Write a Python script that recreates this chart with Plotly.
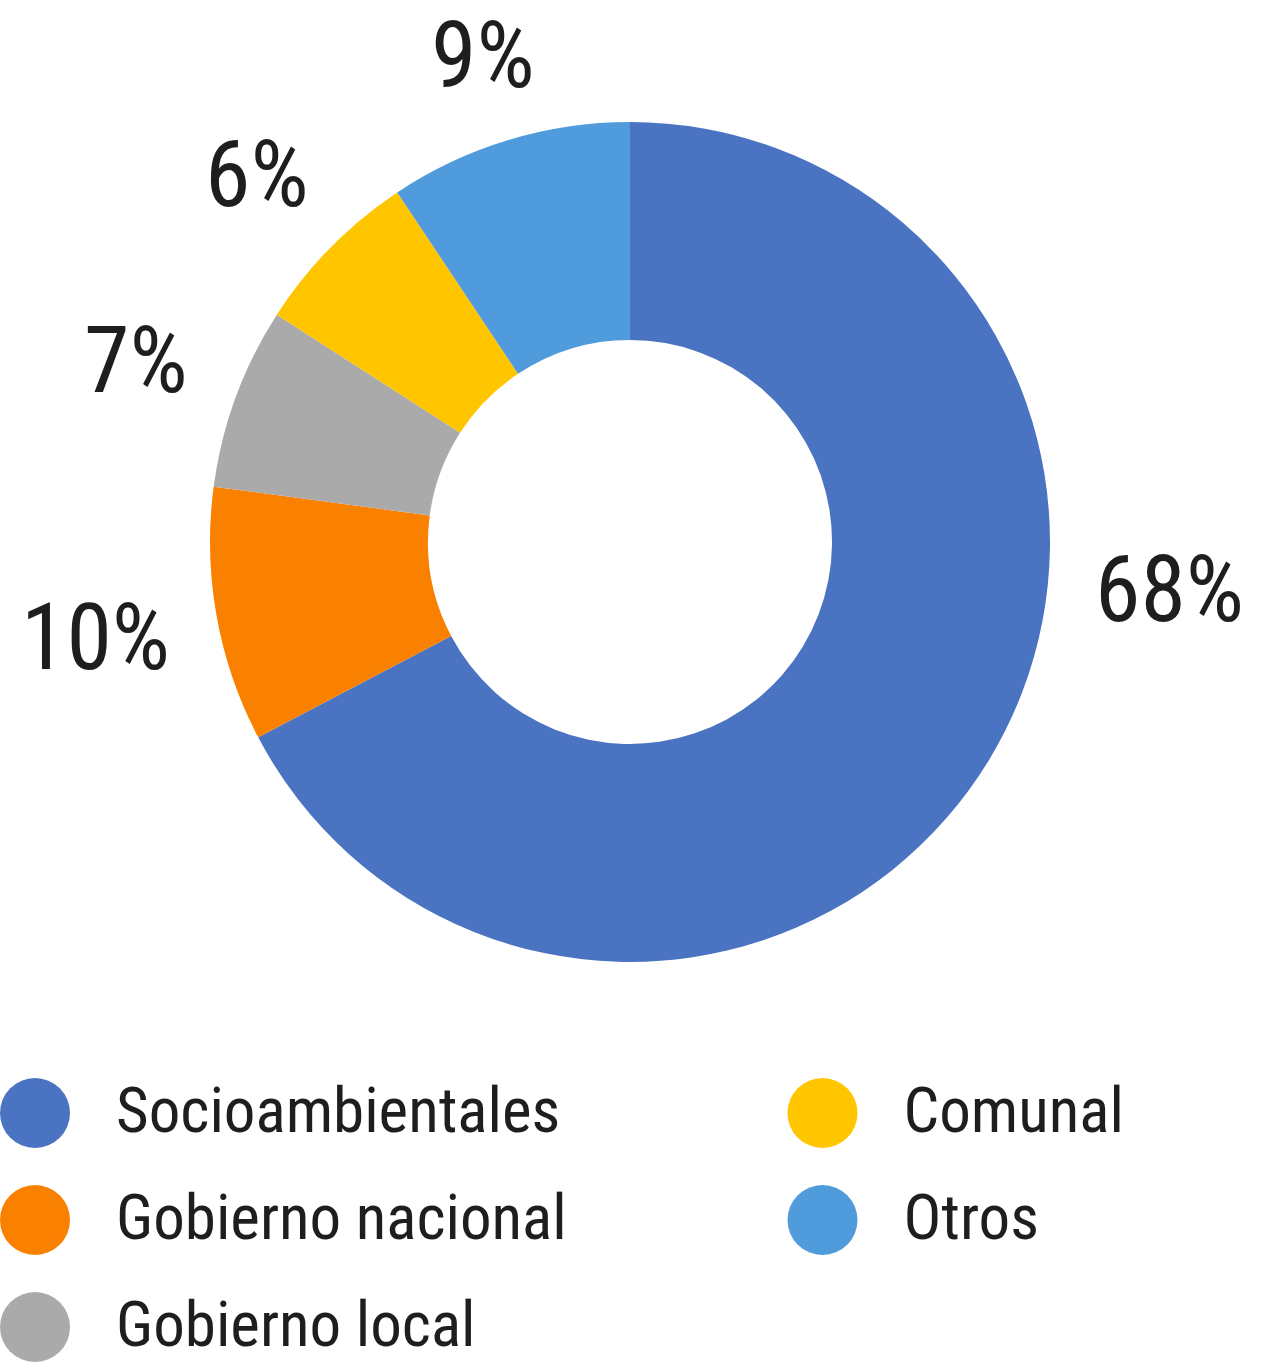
import math
import plotly.graph_objects as go

# ---- data ----
categories = ["Socioambientales", "Gobierno nacional", "Gobierno local", "Comunal", "Otros"]
shares = [67.3, 9.8, 7.0, 6.55, 9.35]          # slice sizes
pct_labels = ["68%", "10%", "7%", "6%", "9%"]    # printed labels
colors = ["#4A74C1", "#FA8000", "#AAAAAA", "#FFC600", "#4F9BDB"]

# ---- layout constants ----
W, H = 1276, 1363
FONT = "Roboto Condensed, Archivo Narrow, Liberation Sans Narrow, sans-serif"
TXT = "#1e1e1e"
PCT_SIZE = 92
LEG_SIZE = 63

cx, cy, R = 630, 542, 420
gap = 46

fig = go.Figure()
fig.add_trace(go.Pie(
    labels=categories, values=shares, sort=False, direction="clockwise",
    rotation=0, hole=0.481, textinfo="none", hoverinfo="label+percent",
    marker=dict(colors=colors, line=dict(width=0)), showlegend=False,
    domain=dict(x=[(cx - R) / W, (cx + R) / W], y=[1 - (cy + R) / H, 1 - (cy - R) / H]),
))

# percentage labels placed just outside each slice (box edge at fixed gap)
total = sum(shares)
cum = 0.0
for v, lab in zip(shares, pct_labels):
    frac = v / total
    mid = (cum + frac / 2) * 360
    cum += frac
    if frac > 0.5:
        mid = 95  # dominant slice: best-fit label on the right side
    th = math.radians(mid)
    ux, uy = math.sin(th), -math.cos(th)
    ndig = len(lab) - 1
    half_w = (0.43 * ndig + 0.74) * PCT_SIZE / 2
    half_h = 0.30 * PCT_SIZE
    dist = R + gap + abs(ux) * half_w + abs(uy) * half_h
    px, py = cx + dist * ux, cy + dist * uy
    fig.add_annotation(x=px / W, y=1 - py / H, xref="paper", yref="paper",
                       text=lab, showarrow=False,
                       font=dict(family=FONT, size=PCT_SIZE, color=TXT),
                       xanchor="center", yanchor="middle")

# legend drawn as markers + text: two columns, three rows
lx, ly = [], []
for i, c in enumerate(categories):
    col, row = divmod(i, 3)
    lx.append(35 + col * 787.5)
    ly.append(1113 + row * 107)
fig.add_trace(go.Scatter(x=lx, y=ly, mode="markers", showlegend=False, hoverinfo="skip",
                         marker=dict(size=70, color=colors, line=dict(width=0)),
                         cliponaxis=False))
fig.add_trace(go.Scatter(x=[x + 81 for x in lx], y=[y + 3 for y in ly], mode="text",
                         text=categories, textposition="middle right", showlegend=False,
                         hoverinfo="skip", cliponaxis=False,
                         textfont=dict(family=FONT, size=LEG_SIZE, color=TXT)))

fig.update_xaxes(range=[0, W], visible=False, fixedrange=True)
fig.update_yaxes(range=[H, 0], visible=False, fixedrange=True)
fig.update_layout(width=W, height=H, margin=dict(l=0, r=0, t=0, b=0),
                  paper_bgcolor="white", plot_bgcolor="rgba(0,0,0,0)",
                  xaxis=dict(domain=[0, 1]), yaxis=dict(domain=[0, 1]))

fig.write_html("out.html", config={"displayModeBar": False},
               post_script="document.body.style.margin='0';document.body.style.overflow='hidden';")
